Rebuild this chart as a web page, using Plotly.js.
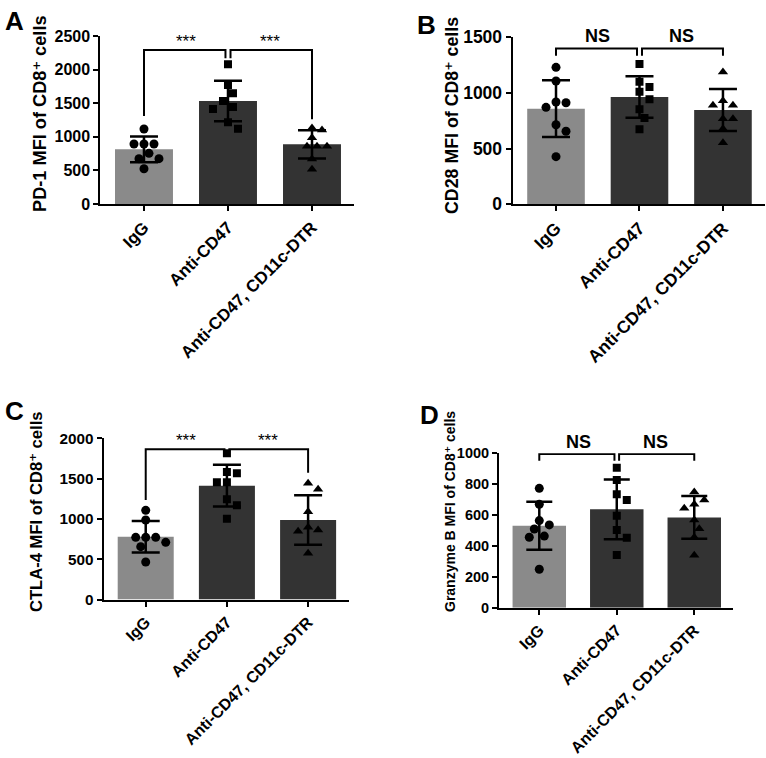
<!DOCTYPE html>
<html><head><meta charset="utf-8">
<script src="https://cdn.plot.ly/plotly-3.0.1.min.js"></script>
<style>html,body{margin:0;padding:0;background:#fff}</style>
</head><body>
<div id="chart" style="width:766px;height:758px"></div>
<script>
// ---------- DATA ----------
const categories = ['IgG', 'Anti-CD47', 'Anti-CD47, CD11c-DTR'];

// Panel A: PD-1 MFI of CD8+ cells
const pd1IgG = [1116, 893, 893, 893, 754, 675, 675, 525];
const pd1AntiCD47 = [2079, 1771, 1647, 1533, 1443, 1414, 1216, 1121];
const pd1DTR = [1131, 1101, 987, 859, 859, 859, 670, 516];
const pd1Mean = [814, 1533, 888];
const pd1SD = [191, 302, 210];
const pd1Bracket = [2292, 1310, 2170, 1262]; // level, left leg, middle legs, right leg
const pd1Sig = ['***', '***'];

// Panel B: CD28 MFI of CD8+ cells
const cd28IgG = [1230, 1107, 919, 912, 871, 715, 656, 428];
const cd28AntiCD47 = [1260, 1101, 1054, 1012, 943, 853, 775, 674];
const cd28DTR = [1188, 930, 889, 889, 769, 769, 679, 553];
const cd28Mean = [859, 964, 847];
const cd28SD = [255, 187, 188];
const cd28Bracket = [1400, 1335, 1335, 1335];
const cd28Sig = ['NS', 'NS'];

// Panel C: CTLA-4 MFI of CD8+ cells
const ctla4IgG = [1107, 987, 772, 772, 772, 710, 656, 466];
const ctla4AntiCD47 = [1814, 1582, 1566, 1454, 1454, 1244, 1169, 1003];
const ctla4DTR = [1442, 1368, 1090, 897, 863, 847, 574];
const ctla4Mean = [780, 1413, 987];
const ctla4SD = [196, 258, 308];
const ctla4Bracket = [1864, 1235, 1772, 1574];
const ctla4Sig = ['***', '***'];

// Panel D: Granzyme B MFI of CD8+ cells
const gzmbIgG = [773, 670, 564, 536, 510, 464, 456, 249];
const gzmbAntiCD47 = [907, 827, 734, 698, 596, 503, 453, 341];
const gzmbDTR = [749, 698, 670, 644, 568, 512, 456, 339];
const gzmbMean = [531, 637, 585];
const gzmbSD = [155, 194, 139];
const gzmbBracket = [995, 952, 952, 952];
const gzmbSig = ['NS', 'NS'];

const yTitles = ['PD-1 MFI of CD8\u207A cells', 'CD28 MFI of CD8\u207A cells',
                 'CTLA-4 MFI of CD8\u207A cells', 'Granzyme B MFI of CD8\u207A cells'];
const panelLetters = ['A', 'B', 'C', 'D'];

// ---------- LAYOUT CONFIG (pixels) ----------
const W = 766, H = 758;
const FONT = 'Liberation Sans, Arial, DejaVu Sans, sans-serif';
const XRANGE = [-0.52, 2.5];
const panels = [
  {groups:[pd1IgG, pd1AntiCD47, pd1DTR], mean:pd1Mean, sd:pd1SD, br:pd1Bracket, sig:pd1Sig,
   px:[100.3, 354], py:[36, 204], yr:[0, 2500], dtick:500, yfs:16, xfs:17, tfs:18.2, tpos:[40, 114], cap:14, letter:[3, 4]},
  {groups:[cd28IgG, cd28AntiCD47, cd28DTR], mean:cd28Mean, sd:cd28SD, br:cd28Bracket, sig:cd28Sig,
   px:[512.6, 764.7], py:[37.3, 204.3], yr:[0, 1500], dtick:500, yfs:17.5, xfs:17.5, tfs:17.8, tpos:[452, 115], cap:14, letter:[415, 8]},
  {groups:[ctla4IgG, ctla4AntiCD47, ctla4DTR], mean:ctla4Mean, sd:ctla4SD, br:ctla4Bracket, sig:ctla4Sig,
   px:[103.5, 348.7], py:[438.3, 599.6], yr:[0, 2000], dtick:500, yfs:15.3, xfs:16, tfs:16.6, tpos:[36, 512], cap:14, letter:[3, 394]},
  {groups:[gzmbIgG, gzmbAntiCD47, gzmbDTR], mean:gzmbMean, sd:gzmbSD, br:gzmbBracket, sig:gzmbSig,
   px:[499, 733], py:[453.3, 607.7], yr:[0, 1000], dtick:200, yfs:14.5, xfs:16, tfs:14, tpos:[450, 512], cap:13, letter:[418, 398]}
];
const barColors = ['#8a8a8a', '#333333', '#333333'];
const symbols = ['circle', 'square', 'triangle-up'];
const symSizes = [9, 8, 9];

// collision-avoiding swarm in pixel space (points placed top to bottom)
function swarm(vals, pxPerX, pxPerY) {
  const STEP = 5, D = 9.5;
  const idx = vals.map((v, i) => i).sort((a, b) => vals[b] - vals[a]);
  const off = new Array(vals.length).fill(0);
  const placed = [];
  let prev = 0;
  idx.forEach(i => {
    const y = vals[i] * pxPerY;
    const sign = prev > 0 ? -1 : 1;
    const cands = [0];
    for (let k = 1; k < 12; k++) cands.push(sign * k * STEP, -sign * k * STEP);
    const ok = c => placed.every(q => Math.hypot(q.x - c, q.y - y) >= D);
    const c = cands.find(ok) ?? 0;
    placed.push({x: c, y});
    off[i] = c / pxPerX;
    prev = c;
  });
  return off;
}

const traces = [];
const layout = {
  width: W, height: H, margin: {l: 0, r: 0, t: 0, b: 0},
  paper_bgcolor: '#fff', plot_bgcolor: '#fff', showlegend: false,
  font: {family: FONT, color: '#000'},
  shapes: [], annotations: []
};

panels.forEach((p, k) => {
  const n = k === 0 ? '' : String(k + 1);
  const xa = 'x' + n, ya = 'y' + n;
  const pxPerX = (p.px[1] - p.px[0]) / (XRANGE[1] - XRANGE[0]);
  const pxPerY = (p.py[1] - p.py[0]) / (p.yr[1] - p.yr[0]);
  const xPaper = v => (p.px[0] + (v - XRANGE[0]) * pxPerX) / W;
  const yPaper = v => 1 - (p.py[1] - (v - p.yr[0]) * pxPerY) / H;

  traces.push({
    type: 'bar', x: [0, 1, 2], y: p.mean, width: 0.69, xaxis: xa, yaxis: ya,
    marker: {color: barColors, line: {width: 0}},
    error_y: {type: 'data', array: p.sd, visible: true, color: '#000', thickness: 2.5, width: p.cap},
    hoverinfo: 'skip'
  });
  p.groups.forEach((vals, g) => {
    const off = swarm(vals, pxPerX, pxPerY);
    traces.push({
      type: 'scatter', mode: 'markers', xaxis: xa, yaxis: ya,
      x: vals.map((v, i) => g + off[i]), y: vals,
      marker: {symbol: symbols[g], size: symSizes[g], color: '#000', line: {width: 0}},
      hoverinfo: 'skip'
    });
  });

  layout['xaxis' + n] = {
    domain: [p.px[0] / W, p.px[1] / W], anchor: ya, range: XRANGE,
    tickvals: [0, 1, 2], ticktext: categories, tickangle: -45,
    tickfont: {family: FONT, size: p.xfs, weight: 'bold', color: '#000'},
    showline: true, linewidth: 2, linecolor: '#000', ticks: 'outside', ticklen: 5, tickwidth: 2,
    tickcolor: '#000', showgrid: false, zeroline: false
  };
  layout['yaxis' + n] = {
    domain: [1 - p.py[1] / H, 1 - p.py[0] / H], anchor: xa, range: p.yr, dtick: p.dtick,
    tickfont: {family: FONT, size: p.yfs, weight: 'bold', color: '#000'},
    showline: true, linewidth: 2, linecolor: '#000', ticks: 'outside', ticklen: 5, tickwidth: 2,
    tickcolor: '#000', showgrid: false, zeroline: false
  };
  // y-axis title (rotated text placed to match the reference)
  layout.annotations.push({
    xref: 'paper', yref: 'paper', x: p.tpos[0] / W, y: 1 - p.tpos[1] / H,
    xanchor: 'center', yanchor: 'middle', textangle: -90, text: yTitles[k], showarrow: false,
    font: {family: FONT, size: p.tfs, weight: 'bold', color: '#000'}
  });

  // significance brackets
  const [lvl, legL, legM, legR] = p.br;
  const gap = 0.03;
  layout.shapes.push({
    type: 'path', xref: xa, yref: ya, line: {color: '#000', width: 2},
    path: `M 0 ${legL} L 0 ${lvl} L ${1 - gap} ${lvl} L ${1 - gap} ${legM}`
  });
  layout.shapes.push({
    type: 'path', xref: xa, yref: ya, line: {color: '#000', width: 2},
    path: `M ${1 + gap} ${legM} L ${1 + gap} ${lvl} L 2 ${lvl} L 2 ${legR}`
  });
  p.sig.forEach((s, j) => {
    const isStar = s.indexOf('*') >= 0;
    layout.annotations.push({
      xref: 'paper', yref: 'paper', x: xPaper(j === 0 ? 0.5 : 1.5), y: yPaper(lvl), text: s, showarrow: false,
      xanchor: 'center', yanchor: 'bottom', yshift: isStar ? -3 : 0,
      font: isStar ? {family: FONT, size: 17, color: '#000'} : {family: FONT, size: 18, weight: 'bold', color: '#000'}
    });
  });
  layout.annotations.push({
    xref: 'paper', yref: 'paper', x: p.letter[0] / W, y: 1 - p.letter[1] / H,
    xanchor: 'left', yanchor: 'top', text: panelLetters[k], showarrow: false,
    font: {family: FONT, size: 26, weight: 'bold', color: '#000'}
  });
});

Plotly.newPlot('chart', traces, layout, {displayModeBar: false, staticPlot: true});
</script>
</body></html>
